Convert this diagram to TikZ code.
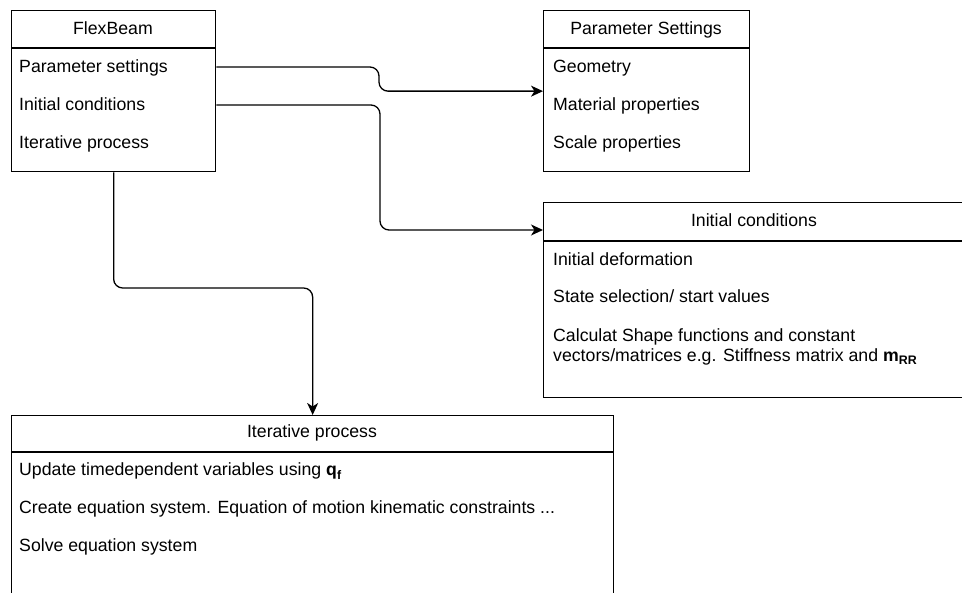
\documentclass[tikz,border=0pt]{standalone}
\usepackage{fontspec}
\setmainfont{Liberation Sans}
\usetikzlibrary{arrows.meta}
\begin{document}
\begin{tikzpicture}[x=1pt,y=-1pt,
  box/.style={draw, line width=1.3pt, anchor=north west, inner sep=0pt},
  rowtxt/.style={anchor=base west, inner sep=0pt, font=\fontsize{17.7}{21}\selectfont},
  headtxt/.style={anchor=base, inner sep=0pt, font=\fontsize{17.7}{21}\selectfont},
  divider/.style={line width=1.3pt},
  conn/.style={line width=1.3pt, rounded corners=9pt, -{Stealth[length=12pt,width=11pt,inset=3.5pt]}}]
\useasboundingbox (0,0) rectangle (962,593);
% FlexBeam
\node[box, minimum width=204pt, minimum height=161pt] (fb) at (11,10) {};
\draw[divider] (11,48) -- (215,48);
\node[headtxt] (fbh) at (113,35) {FlexBeam};
\node[rowtxt] (fbps) at (19,73) {Parameter settings};
\node[rowtxt] (fbic) at (19,111) {Initial conditions};
\node[rowtxt] (fbip) at (19,149) {Iterative process};
% Parameter Settings
\node[box, minimum width=206pt, minimum height=161pt] (ps) at (543,10) {};
\draw[divider] (543,48) -- (749,48);
\node[headtxt] (psh) at (646,35) {Parameter Settings};
\node[rowtxt] (ps1) at (553,73) {Geometry};
\node[rowtxt] (ps2) at (553,111) {Material properties};
\node[rowtxt] (ps3) at (553,149) {Scale properties};
% Initial conditions
\node[box, minimum width=421pt, minimum height=195pt] (ic) at (543,202) {};
\draw[divider] (543,241) -- (964,241);
\node[headtxt] (ich) at (754,227) {Initial conditions};
\node[rowtxt] (ic1) at (553,266) {Initial deformation};
\node[rowtxt] (ic2) at (553,303) {State selection/ start values};
\node[rowtxt] (ic3) at (553,342) {Calculat Shape functions and constant};
\node[rowtxt] (ic4) at (553,362) {vectors/matrices e.g. Stiffness matrix and \textbf{m}\textsubscript{\textbf{RR}}};
% Iterative process
\node[box, minimum width=602pt, minimum height=200pt] (ip) at (11,415) {};
\draw[divider] (11,452) -- (613,452);
\node[headtxt] (iph) at (312,438) {Iterative process};
\node[rowtxt] (ip1) at (19,476) {Update timedependent variables using \textbf{q}\textsubscript{\textbf{f}}};
\node[rowtxt] (ip2) at (19,514) {Create equation system. Equation of motion kinematic constraints ...};
\node[rowtxt] (ip3) at (19,552) {Solve equation system};
% connectors
\draw[conn] (fb.east |- 0,67) -- (379,67) -- (379,0 |- ps.west) -- (ps.west);
\draw[conn] (fb.east |- 0,105) -- (380,105) -- (380,230) -- ([yshift=-28pt]ic.north west);
\draw[conn] (fb.south) -- (fb.south |- 0,288) -- (ip.north |- 0,288) -- (ip.north);
\end{tikzpicture}
\end{document}
